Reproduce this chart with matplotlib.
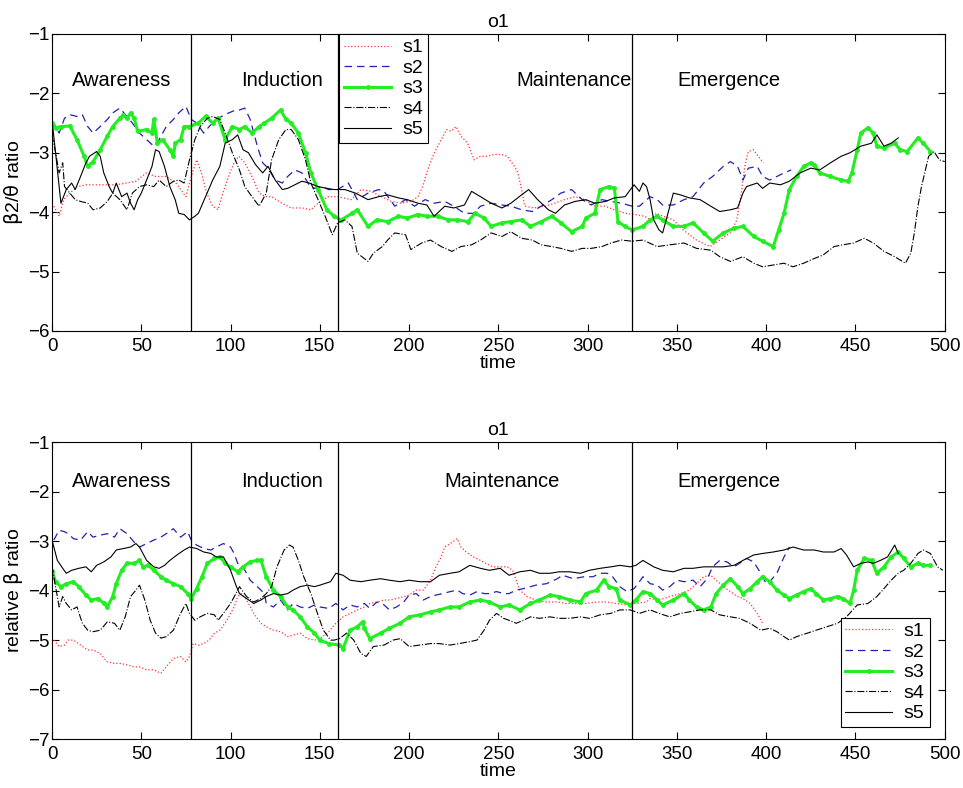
import matplotlib
matplotlib.use("Agg")
import matplotlib.pyplot as plt

plt.rcParams['font.family'] = ['Liberation Sans', 'DejaVu Sans']

# ---------------- upper panel: beta2/theta ratio ----------------
t1a = [1, 4, 6.5, 10, 14, 19.5, 25, 30.5, 36, 41.7, 47, 52.8, 58, 64, 69.4, 75, 78, 81, 83.7, 86.6,
       90, 93, 95.7, 99.6, 102, 104.6, 108, 112, 116, 119.5, 123, 128.7, 134, 140, 145, 149, 154.7,
       160, 167.6, 173, 178.7, 184.6, 190, 195.5, 201, 205, 207.6, 210.4, 214, 218, 221, 223.5, 226.3,
       229, 232.8, 236.4, 240, 244, 247.6, 251.7, 255, 259, 261, 263, 264.8, 270, 276, 281.6, 287, 293,
       298.5, 304, 309.7, 315, 321, 326.5, 332, 335, 338.5, 342.3, 348, 353.5, 361, 368.5, 374, 380,
       383.6, 386.4, 388, 390, 392.8, 395.6, 398.4]
s1a = [-3.90, -4.07, -3.79, -3.68, -3.57, -3.54, -3.54, -3.54, -3.54, -3.51, -3.48, -3.34, -3.40, -3.40,
       -3.51, -3.74, -3.40, -3.12, -3.34, -3.68, -3.90, -3.96, -3.68, -3.34, -3.17, -3.06, -3.17, -3.40,
       -3.68, -3.74, -3.74, -3.85, -3.93, -3.93, -3.96, -3.85, -3.74,
       -3.74, -3.79, -3.62, -3.65, -3.74, -3.82, -3.85, -3.82, -3.74, -3.57, -3.29, -3.01, -2.78, -2.61,
       -2.64, -2.56, -2.72, -2.84, -3.12, -3.06, -3.06, -3.03, -3.03, -3.06, -3.23, -3.34, -3.62, -3.90,
       -3.93, -3.90, -3.85, -3.79, -3.74, -3.79, -3.90, -3.90, -3.96, -4.02, -4.04, -4.07, -4.13, -4.02,
       -4.07, -4.13, -4.30, -4.47, -4.58, -4.47, -4.35, -4.13, -3.62, -3.23, -2.98, -2.95, -3.06, -3.17]

t2a = [0, 4, 7, 10, 14, 17, 20, 23, 27, 31, 34, 38, 42, 45, 49, 53, 57, 60, 64, 68, 71, 75, 78, 81, 85,
       88, 92, 95, 99, 103, 105, 108, 111, 115, 118, 121, 125, 129, 132, 136, 140, 144, 147, 151, 155,
       160, 166, 171, 177, 183, 186, 192, 198, 203, 209, 214, 220, 225, 231, 236, 240, 246, 252, 257,
       263, 269, 274, 280, 285, 291, 297, 302, 308, 313, 319, 325, 329, 335, 339, 342, 348, 354, 359,
       365, 370, 376, 380, 384, 387, 390, 395, 398, 402, 406, 410, 414]
s2a = [-2.45, -2.67, -2.42, -2.36, -2.39, -2.36, -2.56, -2.67, -2.56, -2.44, -2.33, -2.25, -2.39, -2.50,
       -2.67, -2.78, -2.89, -2.78, -2.56, -2.44, -2.33, -2.22, -2.44, -2.50, -2.67, -2.56, -2.44, -2.39,
       -2.33, -2.28, -2.28, -2.25, -2.44, -2.89, -3.17, -3.26, -3.46, -3.51, -3.40, -3.29, -3.34, -3.54,
       -3.60, -3.57, -3.62, -3.62, -3.51, -3.79, -3.68, -3.62, -3.65, -3.90, -3.79, -3.90, -3.79, -3.85,
       -3.82, -3.90, -4.02, -4.02, -3.90, -3.85, -3.88, -3.90, -3.96, -3.99, -3.90, -3.79, -3.68, -3.62,
       -3.79, -3.88, -3.79, -3.82, -3.85, -3.90, -3.90, -3.74, -3.79, -3.88, -3.88, -3.79, -3.74, -3.51,
       -3.40, -3.23, -3.15, -3.23, -3.46, -3.26, -3.23, -3.40, -3.46, -3.40, -3.34, -3.29]

t3a = [0, 2, 5, 10, 14, 18, 20, 23, 27, 31, 34, 38, 40, 42, 44, 46, 48, 53, 56, 57, 59, 62, 66, 68, 69,
       72, 74, 77, 82, 86, 90, 93, 97, 101, 105, 108, 112, 116, 119, 123, 128, 131, 134, 138, 142, 145,
       149, 154, 158, 162, 168, 171, 177, 182, 188, 194, 199, 205, 210, 216, 222, 227, 233, 237, 242,
       246, 252, 257, 263, 268, 274, 280, 285, 291, 297, 299, 304, 307, 312, 315, 317, 321, 325, 331,
       335, 339, 342, 348, 354, 359, 365, 370, 376, 382, 387, 393, 398, 404, 407, 410, 413, 417, 421,
       425, 427, 430, 436, 442, 446, 448, 451, 453, 457, 460, 462, 466, 472, 475, 479, 485, 488, 492]
s3a = [-2.50, -2.58, -2.56, -2.55, -2.78, -3.06, -3.23, -3.15, -2.95, -2.72, -2.56, -2.42, -2.36, -2.42,
       -2.33, -2.42, -2.64, -2.61, -2.67, -2.44, -2.84, -2.78, -2.95, -3.06, -2.84, -2.78, -2.56, -2.56,
       -2.50, -2.39, -2.50, -2.42, -2.78, -2.56, -2.61, -2.56, -2.67, -2.56, -2.50, -2.42, -2.28, -2.44,
       -2.50, -2.67, -3.00, -3.34, -3.62, -3.96, -4.07, -4.13, -4.02, -3.96, -4.24, -4.13, -4.16, -4.07,
       -4.10, -4.04, -4.07, -4.07, -4.13, -4.13, -4.16, -4.02, -4.10, -4.24, -4.18, -4.16, -4.13, -4.24,
       -4.16, -4.07, -4.18, -4.33, -4.24, -4.10, -4.02, -3.62, -3.57, -3.60, -4.16, -4.24, -4.30, -4.24,
       -4.13, -4.07, -4.13, -4.24, -4.24, -4.18, -4.35, -4.49, -4.35, -4.27, -4.24, -4.41, -4.49, -4.58,
       -4.30, -4.02, -3.62, -3.40, -3.23, -3.17, -3.20, -3.34, -3.40, -3.46, -3.48, -3.34, -2.95, -2.67,
       -2.58, -2.67, -2.89, -2.92, -2.84, -2.95, -2.98, -2.75, -2.84, -2.98]

t4a = [0, 2, 4, 6, 7, 10, 13, 16, 20, 23, 27, 31, 34, 38, 42, 45, 49, 53, 57, 60, 64, 68, 71, 74, 77,
       80, 83, 87, 90, 94, 97, 101, 105, 108, 112, 116, 120, 123, 127, 131, 134, 138, 142, 145, 149,
       153, 157, 160, 164, 168, 171, 177, 180, 185, 188, 192, 198, 201, 207, 212, 218, 224, 229, 235,
       240, 246, 252, 257, 263, 269, 274, 280, 285, 291, 297, 302, 308, 313, 319, 325, 331, 339, 346,
       354, 361, 369, 374, 380, 387, 393, 398, 404, 410, 415, 421, 427, 432, 438, 443, 449, 455, 460,
       466, 472, 478, 481, 483, 485, 487, 491, 494, 497, 500]
s4a = [-2.70, -3.00, -3.34, -3.17, -3.57, -3.68, -3.79, -3.82, -3.85, -3.96, -3.93, -3.82, -3.68, -3.79,
       -3.96, -3.68, -3.57, -3.54, -3.57, -3.46, -3.57, -3.48, -3.46, -3.51, -3.12, -2.78, -2.56, -2.42,
       -2.39, -2.44, -2.67, -3.00, -3.29, -3.57, -3.74, -3.90, -3.68, -3.12, -2.78, -2.61, -2.61, -2.78,
       -3.12, -3.51, -3.79, -4.07, -4.38, -4.18, -4.13, -4.24, -4.69, -4.83, -4.69, -4.58, -4.47, -4.35,
       -4.38, -4.63, -4.52, -4.47, -4.58, -4.66, -4.58, -4.55, -4.47, -4.35, -4.41, -4.33, -4.44, -4.47,
       -4.55, -4.58, -4.61, -4.66, -4.61, -4.61, -4.58, -4.52, -4.47, -4.49, -4.47, -4.58, -4.55, -4.52,
       -4.61, -4.64, -4.75, -4.83, -4.75, -4.86, -4.92, -4.89, -4.86, -4.92, -4.86, -4.78, -4.72, -4.58,
       -4.55, -4.52, -4.44, -4.52, -4.66, -4.75, -4.86, -4.69, -4.35, -3.90, -3.57, -3.06, -2.98, -3.12,
       -3.15]

t5a = [0, 2, 5, 8, 11, 13, 16, 19, 21, 25, 27, 29, 32, 34, 36, 39, 42, 44, 46, 48, 50, 53, 56, 58, 60,
       63, 66, 69, 71, 74, 77, 80, 82, 86, 90, 94, 97, 101, 104, 107, 110, 114, 118, 121, 125, 129, 132,
       136, 140, 144, 149, 154, 158, 164, 170, 177, 183, 188, 194, 199, 205, 210, 214, 220, 225, 231,
       235, 240, 246, 252, 257, 263, 267, 272, 278, 282, 287, 293, 299, 304, 310, 315, 321, 326, 329,
       331, 333, 335, 337, 340, 342, 345, 348, 352, 357, 363, 369, 374, 380, 384, 387, 389, 395, 398,
       402, 408, 413, 419, 425, 430, 436, 442, 447, 453, 459, 462, 466, 470, 474]
s5a = [-2.45, -3.00, -3.85, -3.62, -3.51, -3.62, -3.40, -3.17, -3.06, -2.98, -3.06, -3.34, -3.57, -3.68,
       -3.51, -3.74, -3.68, -3.85, -3.96, -3.79, -3.68, -3.46, -3.23, -2.95, -2.98, -3.23, -3.57, -3.79,
       -4.02, -4.04, -4.13, -4.07, -4.02, -3.74, -3.46, -3.23, -2.84, -2.78, -2.70, -2.95, -3.00, -3.20,
       -3.34, -3.23, -3.46, -3.62, -3.60, -3.54, -3.48, -3.51, -3.57, -3.60, -3.62, -3.62, -3.68, -3.79,
       -3.74, -3.71, -3.76, -3.79, -3.85, -3.88, -4.07, -3.90, -3.93, -3.88, -3.65, -3.74, -3.85, -3.93,
       -3.85, -3.71, -3.62, -3.79, -3.96, -4.02, -3.88, -3.82, -3.79, -3.85, -3.82, -3.76, -3.74, -3.54,
       -3.65, -3.51, -3.57, -3.79, -4.13, -4.30, -4.35, -4.02, -3.68, -3.71, -3.76, -3.79, -3.90, -3.99,
       -3.96, -3.93, -3.68, -3.57, -3.51, -3.60, -3.51, -3.54, -3.48, -3.34, -3.26, -3.29, -3.17, -3.06,
       -3.00, -2.89, -2.84, -2.70, -2.89, -2.84, -2.75]

# ---------------- lower panel: relative beta ratio ----------------
t1b = [1, 4, 7, 9, 12, 16, 20, 23, 27, 31, 35, 38, 42, 46, 49, 53, 57, 61, 64, 68, 72, 75, 77, 79, 82,
       85, 88, 91, 94, 98, 102, 104, 106, 109, 113, 117, 120, 124, 128, 132, 135, 139, 143, 147, 150,
       155, 159, 163, 167, 171, 175, 178, 182, 186, 189, 193, 197, 200, 204, 208, 212, 215, 218, 220,
       223, 227, 229, 232, 236, 240, 243, 247, 251, 255, 258, 260, 262, 266, 271, 277, 283, 288, 294,
       299, 305, 311, 316, 322, 327, 333, 335, 340, 346, 352, 357, 361, 365, 369, 372, 376, 380, 384,
       387, 391, 395, 398]
s1b = [-5.00, -5.13, -5.10, -5.00, -5.00, -5.10, -5.20, -5.20, -5.27, -5.44, -5.47, -5.47, -5.50, -5.54,
       -5.54, -5.60, -5.60, -5.67, -5.54, -5.37, -5.33, -5.44, -5.33, -5.07, -5.10, -5.07, -5.00, -4.86,
       -4.80, -4.60, -4.33, -4.12, -4.06, -4.19, -4.46, -4.66, -4.73, -4.80, -4.83, -4.93, -4.90, -4.86,
       -4.97, -5.00, -4.97, -4.83, -4.66, -4.53, -4.46, -4.39, -4.33, -4.26, -4.23, -4.19, -4.19, -4.16,
       -4.12, -4.09, -3.99, -3.99, -3.79, -3.52, -3.32, -3.12, -3.05, -2.95, -3.12, -3.22, -3.32, -3.39,
       -3.45, -3.52, -3.52, -3.52, -3.59, -3.79, -3.99, -4.12, -4.19, -4.23, -4.23, -4.26, -4.26, -4.26,
       -4.23, -4.23, -4.26, -4.29, -4.26, -4.23, -4.16, -4.19, -4.12, -4.06, -3.99, -3.86, -3.72, -3.69,
       -3.79, -3.92, -4.02, -4.12, -4.16, -4.26, -4.46, -4.66]

t2b = [1, 4, 7, 9, 12, 16, 20, 23, 27, 31, 35, 38, 42, 46, 49, 53, 57, 61, 64, 68, 72, 76, 78, 81, 85,
       89, 92, 96, 100, 102, 104, 107, 111, 115, 119, 120, 124, 128, 132, 135, 139, 143, 147, 150, 155,
       159, 163, 167, 171, 175, 178, 182, 186, 189, 193, 197, 200, 204, 208, 212, 215, 219, 223, 227,
       230, 234, 238, 242, 245, 249, 253, 256, 260, 264, 268, 271, 277, 283, 286, 292, 298, 303, 307,
       311, 314, 318, 322, 326, 329, 331, 335, 339, 342, 346, 350, 354, 359, 363, 367, 370, 374, 378,
       382, 385, 389, 393, 397, 400, 402, 406, 410, 413]
s2b = [-2.98, -2.78, -2.81, -2.85, -2.95, -2.98, -2.81, -2.92, -2.88, -2.85, -2.92, -2.75, -2.85, -3.02,
       -3.12, -3.05, -2.98, -2.92, -2.85, -2.75, -2.92, -2.81, -2.98, -3.08, -3.15, -3.18, -3.12, -3.05,
       -3.12, -3.25, -3.45, -3.52, -3.79, -3.92, -4.06, -4.26, -4.33, -4.19, -4.39, -4.26, -4.33, -4.36,
       -4.29, -4.33, -4.36, -4.26, -4.39, -4.29, -4.33, -4.26, -4.36, -4.23, -4.29, -4.39, -4.33, -4.23,
       -4.09, -4.06, -4.19, -4.12, -4.09, -4.06, -4.02, -3.99, -4.06, -4.09, -4.02, -4.06, -4.06, -4.02,
       -4.06, -4.06, -3.99, -3.96, -3.92, -3.89, -3.86, -3.76, -3.69, -3.76, -3.72, -3.72, -3.65, -3.65,
       -3.72, -3.92, -4.02, -3.96, -3.82, -3.72, -3.86, -3.89, -3.99, -3.92, -3.79, -3.82, -3.79, -3.92,
       -3.76, -3.52, -3.39, -3.42, -3.52, -3.45, -3.35, -3.42, -3.65, -3.86, -3.82, -3.65, -3.32, -3.12]

t3b = [0, 2, 5, 8, 12, 15, 19, 22, 26, 29, 31, 34, 36, 39, 42, 46, 49, 51, 54, 57, 61, 64, 68, 72, 76,
       78, 81, 84, 87, 91, 94, 97, 100, 104, 107, 111, 115, 117, 120, 124, 128, 132, 135, 139, 143, 147,
       150, 155, 161, 163, 167, 171, 174, 175, 178, 184, 189, 195, 200, 206, 212, 217, 223, 228, 234,
       240, 245, 251, 256, 262, 268, 273, 279, 284, 290, 296, 299, 305, 309, 312, 316, 318, 324, 327,
       331, 335, 339, 342, 348, 354, 357, 361, 365, 369, 372, 376, 380, 384, 387, 391, 395, 398, 402,
       406, 410, 413, 417, 421, 425, 428, 432, 436, 440, 443, 447, 449, 451, 455, 459, 462, 466, 470,
       474, 477, 481, 485, 488, 492]
s3b = [-3.60, -3.82, -3.92, -3.86, -3.82, -3.92, -4.09, -4.19, -4.16, -4.26, -4.33, -4.12, -3.86, -3.59,
       -3.45, -3.45, -3.39, -3.52, -3.49, -3.59, -3.72, -3.79, -3.86, -3.92, -4.06, -4.16, -3.96, -3.72,
       -3.45, -3.35, -3.32, -3.45, -3.52, -3.62, -3.52, -3.42, -3.39, -3.39, -3.72, -3.99, -4.12, -4.33,
       -4.39, -4.53, -4.73, -4.86, -5.00, -5.07, -5.10, -5.17, -4.80, -4.73, -4.63, -4.76, -4.97, -4.86,
       -4.76, -4.66, -4.53, -4.49, -4.43, -4.39, -4.33, -4.33, -4.23, -4.19, -4.23, -4.33, -4.29, -4.39,
       -4.26, -4.19, -4.09, -4.12, -4.19, -4.23, -4.06, -3.99, -3.79, -3.92, -3.96, -4.19, -4.29, -4.19,
       -4.02, -4.06, -4.19, -4.29, -4.19, -4.06, -4.19, -4.33, -4.39, -4.33, -4.06, -3.89, -3.76, -3.92,
       -4.06, -3.96, -3.82, -3.72, -3.82, -3.99, -4.09, -4.16, -4.09, -4.02, -3.96, -4.06, -4.19, -4.16,
       -4.12, -4.16, -4.26, -3.99, -3.59, -3.35, -3.39, -3.65, -3.52, -3.32, -3.22, -3.35, -3.52, -3.45,
       -3.49, -3.49]

t4b = [0, 2, 4, 6, 8, 11, 14, 17, 20, 23, 27, 31, 35, 38, 41, 44, 47, 49, 52, 55, 58, 61, 64, 68, 72,
       75, 77, 80, 83, 87, 91, 93, 96, 100, 103, 105, 109, 113, 117, 120, 123, 126, 130, 133, 135, 138,
       141, 145, 148, 152, 156, 158, 161, 165, 169, 173, 176, 180, 186, 191, 195, 200, 206, 212, 217,
       223, 228, 234, 238, 242, 245, 249, 253, 256, 260, 264, 268, 273, 279, 284, 290, 296, 301, 307,
       313, 318, 324, 329, 335, 340, 346, 352, 357, 363, 369, 374, 380, 385, 391, 397, 402, 406, 410,
       413, 417, 423, 428, 434, 440, 445, 451, 457, 462, 466, 470, 474, 477, 481, 485, 488, 492, 496,
       499]
s4b = [-3.50, -3.92, -4.33, -4.12, -4.26, -4.39, -4.33, -4.66, -4.80, -4.83, -4.80, -4.63, -4.66, -4.80,
       -4.53, -4.12, -3.99, -3.89, -4.19, -4.60, -4.86, -4.96, -4.93, -4.80, -4.46, -4.26, -4.46, -4.60,
       -4.53, -4.46, -4.49, -4.60, -4.46, -4.26, -4.06, -3.92, -4.12, -4.23, -4.16, -4.06, -3.92, -3.52,
       -3.18, -3.08, -3.12, -3.39, -3.72, -4.06, -4.39, -4.80, -5.00, -5.00, -4.97, -4.86, -5.00, -5.27,
       -5.33, -5.13, -5.10, -5.00, -4.97, -5.13, -5.10, -5.07, -5.07, -5.10, -5.07, -5.03, -5.00, -4.80,
       -4.60, -4.46, -4.56, -4.60, -4.66, -4.60, -4.53, -4.56, -4.53, -4.56, -4.56, -4.53, -4.56, -4.49,
       -4.46, -4.39, -4.39, -4.46, -4.39, -4.46, -4.53, -4.46, -4.43, -4.39, -4.39, -4.49, -4.53, -4.56,
       -4.66, -4.80, -4.76, -4.83, -4.93, -5.00, -4.93, -4.86, -4.80, -4.73, -4.66, -4.53, -4.29, -4.26,
       -4.12, -3.96, -3.79, -3.65, -3.59, -3.45, -3.25, -3.18, -3.25, -3.52, -3.59]

t5b = [0, 3, 6, 8, 11, 15, 19, 22, 25, 29, 33, 36, 40, 44, 47, 49, 53, 57, 60, 63, 66, 70, 74, 77, 81,
       85, 89, 92, 96, 100, 103, 105, 109, 113, 117, 120, 124, 128, 132, 135, 139, 143, 147, 150, 156,
       159, 163, 167, 173, 178, 184, 189, 195, 200, 206, 212, 217, 223, 228, 234, 240, 245, 251, 256,
       262, 268, 273, 279, 284, 290, 296, 301, 307, 313, 318, 324, 327, 331, 337, 342, 348, 354, 359,
       365, 370, 376, 382, 387, 393, 398, 404, 410, 415, 421, 427, 432, 438, 442, 445, 449, 453, 457,
       460, 464, 468, 472, 474]
s5b = [-2.98, -3.39, -3.55, -3.65, -3.59, -3.55, -3.52, -3.62, -3.49, -3.42, -3.32, -3.18, -3.15, -3.12,
       -3.05, -3.12, -3.39, -3.52, -3.55, -3.49, -3.39, -3.28, -3.18, -3.12, -3.15, -3.22, -3.25, -3.32,
       -3.32, -3.59, -3.89, -4.06, -4.16, -4.26, -4.19, -4.12, -4.06, -4.09, -4.06, -3.99, -3.92, -3.89,
       -3.92, -3.89, -3.82, -3.65, -3.69, -3.79, -3.82, -3.79, -3.76, -3.79, -3.82, -3.79, -3.82, -3.82,
       -3.69, -3.65, -3.62, -3.49, -3.55, -3.59, -3.55, -3.69, -3.62, -3.59, -3.65, -3.65, -3.62, -3.62,
       -3.65, -3.59, -3.55, -3.52, -3.49, -3.52, -3.49, -3.39, -3.52, -3.59, -3.62, -3.55, -3.55, -3.52,
       -3.52, -3.52, -3.49, -3.39, -3.28, -3.25, -3.22, -3.18, -3.12, -3.18, -3.18, -3.22, -3.22, -3.15,
       -3.28, -3.52, -3.45, -3.42, -3.45, -3.39, -3.32, -3.08, -3.25]

phase_names = ['Awareness', 'Induction', 'Maintenance', 'Emergence']
phase_edges = [78, 160, 325]
labels = ['s1', 's2', 's3', 's4', 's5']

panels = [
    dict(data=[(t1a, s1a), (t2a, s2a), (t3a, s3a), (t4a, s4a), (t5a, s5a)],
         ylim=(-6, -1), ylabel=r'$\mathrm{\beta}$2/$\mathrm{\theta}$ ratio',
         text_x=[11, 106, 260, 350], text_y=-1.78, pos=[0.054, 0.580, 0.927, 0.377]),
    dict(data=[(t1b, s1b), (t2b, s2b), (t3b, s3b), (t4b, s4b), (t5b, s5b)],
         ylim=(-7, -1), ylabel=r'relative $\mathrm{\beta}$ ratio',
         text_x=[11, 106, 220, 350], text_y=-1.8, pos=[0.054, 0.062, 0.927, 0.377]),
]

styles = [
    dict(color='#ff3333', ls=':', lw=0.9),
    dict(color='#2222aa', ls=(0, (6, 4)), lw=0.9),
    dict(color='#22ee22', ls='-', lw=2.2, marker='.', ms=5),
    dict(color='black', ls='-.', lw=0.8),
    dict(color='black', ls='-', lw=0.8),
]

fig = plt.figure(figsize=(9.63, 7.88), dpi=100)

for k, p in enumerate(panels):
    ax = fig.add_axes(p['pos'])
    for (tt, yy), st, lab in zip(p['data'], styles, labels):
        ax.plot(tt, yy, label=lab, **st)
    for e in phase_edges:
        ax.axvline(e, color='black', lw=0.9)
    for name, tx in zip(phase_names, p['text_x']):
        ax.text(tx, p['text_y'], name, fontsize=14.5, va='center', ha='left')
    ax.set_xlim(0, 500)
    ax.set_ylim(*p['ylim'])
    ax.set_xticks(range(0, 501, 50))
    ax.set_yticks(range(p['ylim'][0], p['ylim'][1] + 1))
    ax.tick_params(direction='in', top=True, right=True, length=5, labelsize=13.5)
    ax.tick_params(axis='x', pad=5)
    ax.tick_params(axis='y', pad=2)
    for sp in ax.spines.values():
        sp.set_linewidth(0.8)
    ax.set_title('o1', fontsize=14, pad=5)
    ax.set_xlabel('time', fontsize=14, labelpad=0)
    ax.set_ylabel(p['ylabel'], fontsize=14, labelpad=2)
    if k == 0:
        leg = ax.legend(loc='upper left', bbox_to_anchor=(0.322, 1.0), borderaxespad=0,
                        fancybox=False, edgecolor='black', framealpha=1, fontsize=14,
                        handlelength=2.4, labelspacing=0.15, borderpad=0.25, handletextpad=0.6)
    else:
        leg = ax.legend(loc='lower right', bbox_to_anchor=(0.983, 0.04), borderaxespad=0,
                        fancybox=False, edgecolor='black', framealpha=1, fontsize=14,
                        handlelength=2.4, labelspacing=0.15, borderpad=0.25, handletextpad=0.6)
    leg.get_frame().set_linewidth(0.8)

fig.savefig('out.png', dpi=100)
